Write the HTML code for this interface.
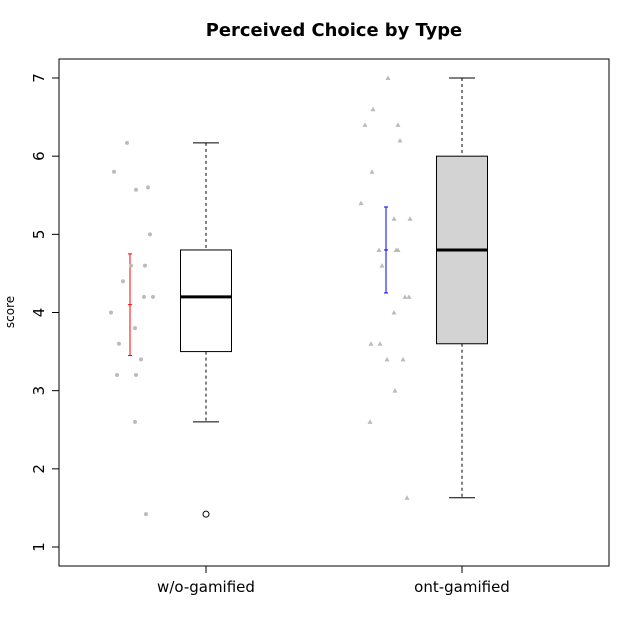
<!DOCTYPE html>
<html><head><meta charset="utf-8"><style>
html,body{margin:0;padding:0;background:#fff;}
svg{display:block;font-family:"DejaVu Sans","Liberation Sans",sans-serif;}
</style></head><body>
<svg id="chart" width="640" height="640">
<text x="334" y="36" text-anchor="middle" font-size="17.9" font-weight="bold">Perceived Choice by Type</text>
<text transform="translate(14,312) rotate(-90)" text-anchor="middle" font-size="12">score</text>
<rect x="59" y="59" width="550" height="507" fill="none" stroke="#000"/>
<g id="g"></g>
</svg>
<script>
const categories = ["w/o-gamified","ont-gamified"];
const whiskerLow = [2.6, 1.63];
const q1 = [3.5, 3.6];
const medians = [4.2, 4.8];
const q3 = [4.8, 6.0];
const whiskerHigh = [6.17, 7.0];
const outliers = [[1.42], []];
const boxFill = ["#ffffff", "#d3d3d3"];
const points1 = [6.17,5.8,5.57,5.6,5.0,4.6,4.6,4.4,4.2,4.2,4.0,3.8,3.6,3.4,3.2,3.2,2.6,1.42];
const jitter1 = [-3,-16,6,18,20,1,15,-7,14,23,-19,5,-11,11,-13,6,5,16];
const points2 = [7.0,6.6,6.4,6.4,6.2,5.8,5.4,5.2,5.2,4.8,4.8,4.8,4.6,4.2,4.2,4.0,3.6,3.6,3.4,3.4,3.0,2.6,1.63];
const jitter2 = [2,-13,-21,12,14,-14,-25,8,24,-7,10,12,-4,19,23,8,-15,-6,1,17,9,-16,21];
const errMean = [4.1, 4.8];
const errLow = [3.45, 4.25];
const errHigh = [4.75, 5.35];
const errColor = ["#ff0000", "#0000ff"];
const yTicks = [1,2,3,4,5,6,7];

const ns = "http://www.w3.org/2000/svg";
const g = document.getElementById("g");
const y = v => 547 - (v - 1) * (469 / 6);
const cx = i => 206 + i * 256;
function mk(tag, attrs){ const e = document.createElementNS(ns, tag); for (const k in attrs) e.setAttribute(k, attrs[k]); g.appendChild(e); return e; }

yTicks.forEach(t => {
  const l = mk("line", {x1:52, x2:59, y1:y(t), y2:y(t), stroke:"#000"});
  
  
  const tx = mk("text", {transform:`translate(44,${y(t)}) rotate(-90)`, "text-anchor":"middle", "font-size":15});
  tx.textContent = t;
  
  
});

categories.forEach((c, i) => {
  const x = cx(i);
  const tk = mk("line", {x1:x, x2:x, y1:566, y2:573, stroke:"#000"});
  
  
  const lb = mk("text", {x:x, y:592, "text-anchor":"middle", "font-size":15});
  lb.textContent = c;
  
  
  const w1 = mk("line", {x1:x, x2:x, y1:y(whiskerHigh[i]), y2:y(q3[i]), stroke:"#000", "stroke-dasharray":"3,3"});
  
  
  const w2 = mk("line", {x1:x, x2:x, y1:y(q1[i]), y2:y(whiskerLow[i]), stroke:"#000", "stroke-dasharray":"3,3"});
  
  
  [whiskerHigh[i], whiskerLow[i]].forEach(v => {
    const cap = mk("line", {x1:x-13, x2:x+13, y1:y(v), y2:y(v), stroke:"#000"});
    
    
  });
  const b = mk("rect", {x:x-25.5, y:y(q3[i]), width:51, height:y(q1[i])-y(q3[i]), fill:boxFill[i], stroke:"#000"});
  
  
  const m = mk("line", {x1:x-25.5, x2:x+25.5, y1:y(medians[i]), y2:y(medians[i]), stroke:"#000", "stroke-width":3});
  
  
  outliers[i].forEach(v => {
    const o = mk("circle", {cx:x, cy:y(v), r:3, fill:"none", stroke:"#000"});
    
    
  });
  const ex = x - 76;
  const col = errColor[i];
  const el = mk("line", {x1:ex, x2:ex, y1:y(errHigh[i]), y2:y(errLow[i]), stroke:col});
  
  
  [errHigh[i], errMean[i], errLow[i]].forEach(v => {
    const t = mk("line", {x1:ex-2, x2:ex+2, y1:y(v), y2:y(v), stroke:col});
    
    
  });
});

points1.forEach((v, k) => {
  const p = mk("circle", {cx:cx(0)-76+jitter1[k], cy:y(v), r:2, fill:"#bbb"});
  
  
});
points2.forEach((v, k) => {
  const X = cx(1)-76+jitter2[k], Y = y(v);
  const p = mk("polygon", {points:`${X-2.5},${Y+2} ${X+2.5},${Y+2} ${X},${Y-2.5}`, fill:"#bbb"});
  
  
});
</script>
</body></html>
